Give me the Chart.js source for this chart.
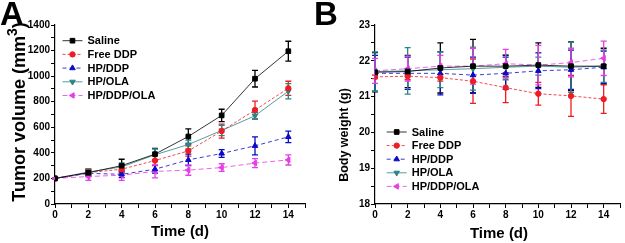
<!DOCTYPE html>
<html>
<head>
<meta charset="utf-8">
<script src="https://cdn.jsdelivr.net/npm/chart.js@4.4.1/dist/chart.umd.min.js"></script>
<style>
  body { margin: 0; background: #fff; }
  #wrap { position: relative; width: 625px; height: 243px; overflow: hidden; }
  canvas { position: absolute; top: 0; }
  #chartA { left: 0; }
  #chartB { left: 310px; }
  .panel { position: absolute; top: -3px; font: bold 33px "Liberation Sans", Arial, sans-serif; line-height: 33px; color: #000; }
</style>
</head>
<body>
<div id="wrap">
  <canvas id="chartA" width="310" height="243"></canvas>
  <canvas id="chartB" width="315" height="243"></canvas>
  <div class="panel" style="left:0px">A</div>
  <div class="panel" style="left:314px">B</div>
</div>
<script>
const days = [0, 2, 4, 6, 8, 10, 12, 14];
const groups = ["Saline", "Free DDP", "HP/DDP", "HP/OLA", "HP/DDP/OLA"];

// tumor volume (mm3), mean and error
const tumorSaline = [200, 245, 300, 390, 528, 693, 980, 1195];
const tumorFreeDDP = [200, 245, 272, 340, 415, 570, 735, 905];
const tumorHPDDP = [200, 240, 232, 272, 345, 395, 455, 525];
const tumorHPOLA = [200, 250, 290, 385, 465, 575, 690, 882];
const tumorHPDDPOLA = [200, 215, 225, 255, 265, 285, 320, 345];
const tumorErrSaline = [5, 25, 50, 45, 60, 48, 65, 78];
const tumorErrFreeDDP = [5, 30, 35, 40, 40, 55, 70, 55];
const tumorErrHPDDP = [5, 20, 25, 30, 45, 30, 70, 45];
const tumorErrHPOLA = [5, 20, 30, 45, 35, 40, 25, 60];
const tumorErrHPDDPOLA = [5, 30, 40, 50, 40, 30, 35, 40];

// body weight (g), mean and error
const weightSaline = [21.68, 21.7, 21.8, 21.85, 21.85, 21.88, 21.85, 21.85];
const weightFreeDDP = [21.55, 21.57, 21.53, 21.43, 21.25, 21.08, 21.02, 20.93];
const weightHPDDP = [21.65, 21.65, 21.65, 21.6, 21.65, 21.72, 21.75, 21.82];
const weightHPOLA = [21.7, 21.72, 21.75, 21.78, 21.82, 21.85, 21.82, 21.85];
const weightHPDDPOLA = [21.72, 21.78, 21.85, 21.85, 21.92, 21.88, 21.95, 22.07];
const weightErrSaline = [0.55, 0.45, 0.7, 0.75, 0.3, 0.62, 0.68, 0.5];
const weightErrFreeDDP = [0.05, 0.1, 0.1, 0.62, 0.42, 0.32, 0.57, 0.4];
const weightErrHPDDP = [0.5, 0.45, 0.6, 0.5, 0.45, 0.5, 0.55, 0.45];
const weightErrHPOLA = [0.55, 0.65, 0.5, 0.6, 0.35, 0.25, 0.7, 0.45];
const weightErrHPDDPOLA = [0.35, 0.35, 0.3, 0.5, 0.4, 0.55, 0.4, 0.48];

const FONT = '"Liberation Sans", Arial, sans-serif';

const styles = [
  { color: "#000000", pointStyle: "rect", radius: 3.3, rotation: 0, dash: [] },
  { color: "#ee1c25", pointStyle: "circle", radius: 2.7, rotation: 0, dash: [3, 2] },
  { color: "#0a0ac8", pointStyle: "triangle", radius: 3.2, rotation: 0, dash: [4, 3] },
  { color: "#2a8585", pointStyle: "triangle", radius: 3.2, rotation: 180, dash: [] },
  { color: "#e63ee6", pointStyle: "triangle", radius: 3.2, rotation: 270, dash: [5, 3] },
];

function makeDatasets(means, errs) {
  return groups.map((name, i) => ({
    label: name,
    data: days.map((d, j) => ({ x: d, y: means[i][j] })),
    errors: errs[i],
    borderColor: styles[i].color,
    backgroundColor: styles[i].color,
    pointBackgroundColor: styles[i].color,
    pointBorderColor: styles[i].color,
    borderWidth: 0.8,
    borderDash: styles[i].dash,
    pointStyle: styles[i].pointStyle,
    pointRadius: styles[i].radius,
    pointRotation: styles[i].rotation,
    pointBorderWidth: 1,
    tension: 0,
    fill: false,
  }));
}

const errorBars = {
  id: "errorBars",
  beforeDatasetsDraw(chart) {
    const { ctx, scales: { x, y } } = chart;
    chart.data.datasets.forEach((ds) => {
      ctx.save();
      ctx.strokeStyle = ds.borderColor;
      ctx.lineWidth = 1.3;
      ds.data.forEach((p, j) => {
        const e = ds.errors[j];
        const px = x.getPixelForValue(p.x);
        const top = y.getPixelForValue(p.y + e);
        const bot = y.getPixelForValue(p.y - e);
        ctx.beginPath();
        ctx.moveTo(px, top); ctx.lineTo(px, bot);
        ctx.moveTo(px - 3, top); ctx.lineTo(px + 3, top);
        ctx.moveTo(px - 3, bot); ctx.lineTo(px + 3, bot);
        ctx.stroke();
      });
      ctx.restore();
    });
  },
};

const innerLegend = {
  id: "innerLegend",
  afterDraw(chart, args, opts) {
    const ctx = chart.ctx;
    ctx.save();
    chart.data.datasets.forEach((ds, i) => {
      const cy = opts.y + i * opts.rowH;
      ctx.strokeStyle = ds.borderColor;
      ctx.lineWidth = 0.8;
      ctx.setLineDash(ds.borderDash || []);
      ctx.beginPath();
      ctx.moveTo(opts.x, cy);
      ctx.lineTo(opts.x + 20, cy);
      ctx.stroke();
      ctx.setLineDash([]);
      ctx.fillStyle = ds.pointBackgroundColor;
      ctx.lineWidth = 1;
      Chart.helpers.drawPoint(ctx, {
        pointStyle: ds.pointStyle, radius: ds.pointRadius,
        rotation: ds.pointRotation, borderWidth: 1,
      }, opts.x + 10, cy);
      ctx.fillStyle = "#000";
      ctx.font = "bold 11px " + FONT;
      ctx.textBaseline = "middle";
      ctx.fillText(ds.label, opts.x + 25, cy + 0.5);
    });
    ctx.restore();
  },
};

const axisTitles = {
  id: "axisTitles",
  afterDraw(chart, args, opts) {
    const ctx = chart.ctx;
    ctx.save();
    ctx.fillStyle = "#000";
    ctx.textBaseline = "alphabetic";
    // x title
    ctx.font = "bold " + opts.x.size + "px " + FONT;
    ctx.textAlign = "center";
    ctx.fillText(opts.x.text, opts.x.cx, opts.x.base);
    // y title, rotated
    const t = opts.y;
    ctx.translate(t.base, t.cy);
    ctx.rotate(-Math.PI / 2);
    ctx.textAlign = "left";
    const main = "bold " + t.size + "px " + FONT;
    const small = "bold " + Math.round(t.size * 0.75) + "px " + FONT;
    ctx.font = main;
    let w = ctx.measureText(t.text).width;
    let supW = 0, tailW = 0;
    if (t.sup) {
      ctx.font = small; supW = ctx.measureText(t.sup).width;
      ctx.font = main; tailW = ctx.measureText(t.tail).width;
    }
    let xx = -(w + supW + tailW) / 2;
    ctx.font = main;
    ctx.fillText(t.text, xx, 0);
    xx += w;
    if (t.sup) {
      ctx.font = small;
      ctx.fillText(t.sup, xx, -t.size * 0.45);
      xx += supW;
      ctx.font = main;
      ctx.fillText(t.tail, xx, 0);
    }
    ctx.restore();
  },
};

function makeChart(canvasId, datasets, o) {
  return new Chart(document.getElementById(canvasId), {
    type: "line",
    data: { datasets },
    plugins: [errorBars, innerLegend, axisTitles],
    options: {
      responsive: false,
      animation: false,
      devicePixelRatio: 1,
      layout: { padding: { top: 25, right: o.padRight, left: 0, bottom: 0 } },
      plugins: {
        legend: { display: false },
        tooltip: { enabled: false },
        innerLegend: o.legend,
        axisTitles: o.titles,
      },
      scales: {
        x: {
          type: "linear",
          min: 0, max: 15,
          afterFit: (s) => { s.height = 39; },
          border: { display: true, color: "#000", width: 1.2 },
          grid: { drawOnChartArea: false, drawTicks: true, tickLength: 4, color: "#000" },
          ticks: {
            stepSize: 1, autoSkip: false, maxRotation: 0, padding: 1,
            color: "#000", font: { family: FONT, size: 10, weight: "bold" },
            callback: (v) => (v % 2 === 0 ? v : ""),
          },
        },
        y: {
          min: o.yMin, max: o.yMax,
          afterFit: (s) => { s.width = o.yWidth; },
          border: { display: true, color: "#000", width: 1.2 },
          grid: { drawOnChartArea: false, drawTicks: true, tickLength: 4, color: "#000" },
          ticks: {
            stepSize: o.yStep, autoSkip: false, padding: 1,
            color: "#000", font: { family: FONT, size: 10, weight: "bold" },
            callback: o.yLabel,
          },
        },
      },
    },
  });
}

makeChart("chartA",
  makeDatasets(
    [tumorSaline, tumorFreeDDP, tumorHPDDP, tumorHPOLA, tumorHPDDPOLA],
    [tumorErrSaline, tumorErrFreeDDP, tumorErrHPDDP, tumorErrHPOLA, tumorErrHPDDPOLA]),
  {
    padRight: 5, yWidth: 55, yMin: 0, yMax: 1400, yStep: 100,
    yLabel: (v) => (v % 200 === 0 ? v : ""),
    legend: { x: 62.5, y: 40.7, rowH: 13.7 },
    titles: {
      x: { text: "Time (d)", cx: 180, base: 236, size: 15 },
      y: { text: "Tumor volume (mm", sup: "3", tail: ")", base: 25, cy: 112, size: 18 },
    },
  });

makeChart("chartB",
  makeDatasets(
    [weightSaline, weightFreeDDP, weightHPDDP, weightHPOLA, weightHPDDPOLA],
    [weightErrSaline, weightErrFreeDDP, weightErrHPDDP, weightErrHPOLA, weightErrHPDDPOLA]),
  {
    padRight: 1, yWidth: 65, yMin: 18, yMax: 23, yStep: 0.5,
    yLabel: (v) => (Number.isInteger(v) ? v : ""),
    legend: { x: 76.7, y: 132, rowH: 13.6 },
    titles: {
      x: { text: "Time (d)", cx: 189, base: 238, size: 15 },
      y: { text: "Body weight (g)", base: 37.5, cy: 135, size: 12.5 },
    },
  });
</script>
</body>
</html>
